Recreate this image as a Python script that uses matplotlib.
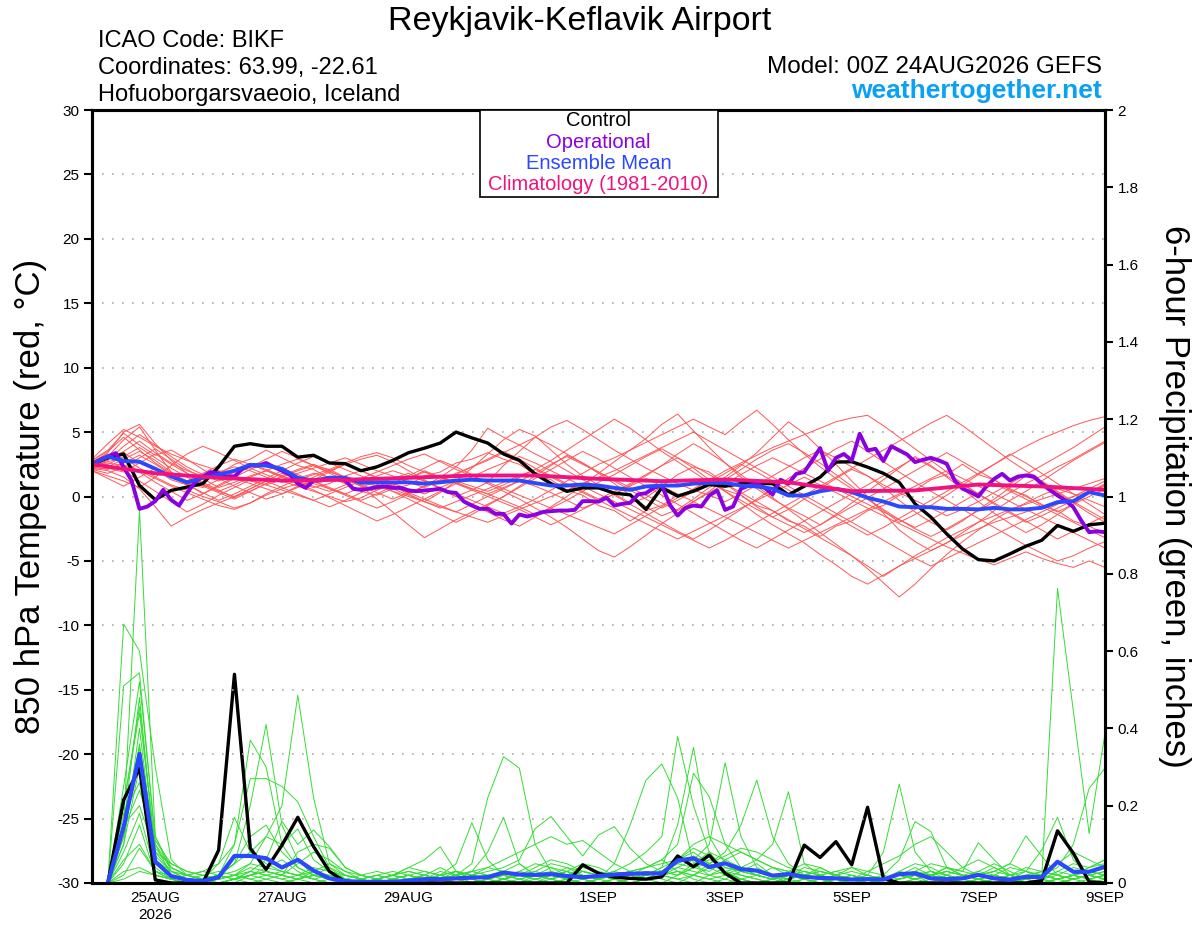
import numpy as np
import matplotlib
matplotlib.use("Agg")
import matplotlib.pyplot as plt
from matplotlib.patches import Rectangle

plt.rcParams['font.family'] = ['Liberation Sans', 'DejaVu Sans']

# ---------------- data ----------------
# 6-hourly temperature (deg C) from 00Z 24AUG, 65 steps
control_temp = [2.5, 3.0, 3.3, 0.85, -0.25, 0.47, 0.73, 1.0, 2.3, 3.9, 4.1, 3.9, 3.9,
                3.05, 3.2, 2.6, 2.55, 2.0, 2.3, 2.8, 3.4, 3.75, 4.15, 5.0, 4.55, 4.15,
                3.3, 2.8, 1.75, 1.0, 0.4, 0.67, 0.67, 0.26, 0.13, -1.0, 0.67, 0.03, 0.41,
                0.93, 0.8, 1.0, 1.0, 1.0, 0.13, 0.8, 1.5, 2.67, 2.7, 2.28, 1.8, 1.1,
                -0.57, -1.6, -2.9, -4.07, -4.9, -5.0, -4.45, -3.86, -3.4, -2.25, -2.7, -2.2, -2.07]

mean_temp = [2.5, 3.1, 2.75, 2.7, 2.15, 1.55, 1.1, 1.45, 1.7, 2.0, 2.46, 2.4, 2.15,
             1.45, 1.24, 1.45, 1.45, 1.06, 1.1, 1.1, 1.1, 1.0, 1.1, 1.24, 1.3, 1.24,
             1.24, 1.24, 1.04, 0.85, 0.85, 0.93, 0.85, 0.67, 0.52, 0.78, 0.85, 0.85, 1.0,
             1.06, 1.06, 0.85, 0.78, 0.6, 0.08, 0.08, 0.41, 0.6, 0.34, -0.1, -0.39, -0.78,
             -0.83, -0.83, -0.96, -0.96, -1.0, -0.88, -1.0, -1.0, -0.88, -0.44, -0.36, 0.34, 0.08]

# operational run is 3-hourly, 129 steps
oper_temp = [2.5, 2.85, 3.1, 3.37, 2.28, 1.24, -0.96, -0.78, -0.36, 0.52, -0.26, -0.7, 0.26,
             1.1, 1.55, 1.9, 1.8, 1.55, 1.55, 2.15, 2.4, 2.4, 2.6, 2.28, 2.0, 1.7,
             1.0, 0.67, 1.24, 1.24, 1.45, 1.45, 1.24, 0.6, 0.52, 0.6, 0.73, 0.78, 0.67,
             0.67, 0.47, 0.41, 0.47, 0.52, 0.6, 0.34, 0.28, -0.39, -0.7, -0.96, -0.96, -1.35,
             -1.35, -2.1, -1.4, -1.55, -1.4, -1.2, -1.14, -1.09, -1.09, -1.04, -0.36, -0.36, -0.4,
             -0.1, -0.7, -0.57, -0.49, 0.16, 0.26, 0.67, 0.85, -0.62, -1.48, -0.88, -0.7, -0.78,
             0.08, 0.47, -1.04, -0.78, 0.6, 0.85, 1.0, 0.67, 0.16, 1.3, 1.0, 1.76, 1.9,
             2.8, 3.76, 2.0, 3.0, 3.3, 2.8, 4.87, 3.58, 3.7, 2.75, 3.9, 3.58, 3.26,
             2.67, 2.85, 3.0, 2.8, 2.54, 1.24, 0.6, 0.34, 0.0, 0.78, 1.37, 1.76, 1.24,
             1.55, 1.63, 1.55, 1.0, 0.52, 0.08, -0.31, -0.83, -1.87, -2.77, -2.7, -2.77]

# climatology, daily at 00Z
clim_temp = [2.5, 1.8, 1.45, 1.24, 1.3, 1.45, 1.63, 1.63, 1.37, 1.19, 1.32, 1.1,
             0.41, 0.47, 0.93, 0.78, 0.52]

temp_members = [
    [2.6, 3.1, 4.4, 5.4, 3.6, 1.9, 1.0, 0.7, 1.3, 1.9, 2.5, 2.1, 1.6,
     1.1, 0.7, 1.0, 1.6, 2.0, 1.4, 0.8, 0.2, -0.4, 0.3, 1.2, 2.2, 3.3,
     4.4, 5.2, 4.7, 3.6, 2.5, 1.6, 0.9, 0.2, -0.5, -0.1, 0.8, 1.7, 2.3,
     1.9, 1.0, 0.1, -0.8, -1.6, -1.0, -0.2, 0.6, 1.4, 2.1, 1.6, 0.7, -0.3,
     -1.2, -2.0, -2.6, -1.9, -1.0, -0.2, 0.7, 1.6, 1.1, 0.3, -0.5, -1.3, -2.0],
    [2.2, 2.0, 1.5, 0.6, -0.8, -2.3, -1.6, -1.0, -0.5, 0.0, 0.4, 1.0, 1.5,
     2.0, 2.4, 2.1, 1.5, 0.8, -0.2, -1.2, -2.2, -3.2, -2.5, -1.8, -1.2, -0.6,
     0.0, 0.8, 1.6, 2.4, 3.2, 2.6, 1.8, 1.0, 0.1, -0.8, -1.5, -1.0, -0.2,
     0.7, 1.5, 2.4, 3.4, 4.6, 5.8, 4.9, 3.7, 2.5, 1.2, 0.0, -1.3, -2.6,
     -3.5, -4.2, -3.6, -2.8, -2.0, -1.1, -0.3, 0.4, 1.2, 2.0, 2.8, 3.5, 4.2],
    [2.8, 3.6, 4.9, 4.0, 3.2, 3.6, 2.9, 2.1, 1.4, 0.8, 0.3, -0.2, 0.2,
     0.8, 1.3, 1.9, 2.5, 2.9, 3.2, 2.7, 2.0, 1.3, 0.6, 0.0, -0.6, -1.2,
     -1.8, -2.3, -1.6, -0.8, 0.0, 0.9, 1.8, 2.7, 3.6, 4.5, 5.6, 6.4, 5.1,
     3.8, 2.6, 1.5, 0.6, -0.2, -0.9, -1.5, -2.2, -1.4, -0.5, 0.4, 1.3, 2.2,
     3.1, 2.4, 1.5, 0.6, -0.4, -1.3, -2.1, -2.8, -2.2, -1.4, -0.6, 0.3, 1.0],
    [2.4, 2.7, 3.0, 2.2, 1.5, 0.9, 0.5, 0.0, -0.4, -0.9, -0.5, 0.2, 0.8,
     1.3, 1.7, 2.1, 2.6, 3.1, 3.4, 3.0, 2.4, 1.9, 1.5, 1.1, 0.6, 0.2,
     -0.3, -0.8, -1.4, -0.9, -0.3, 0.4, 1.1, 1.7, 2.4, 3.1, 3.7, 3.0, 2.2,
     1.3, 0.4, -0.5, -1.4, -2.2, -2.9, -3.6, -4.5, -5.3, -6.2, -6.8, -6.1, -5.4,
     -4.8, -4.2, -3.6, -3.0, -2.5, -2.0, -1.6, -1.2, -0.8, -0.4, 0.0, 0.4, 0.8],
    [2.0, 1.6, 1.2, 0.7, 1.5, 2.4, 3.3, 3.9, 3.4, 2.8, 2.2, 1.7, 1.2,
     0.8, 0.4, 0.0, -0.4, -0.1, 0.5, 1.0, 1.6, 2.2, 2.8, 2.3, 1.7, 1.0,
     0.4, -0.2, -0.9, -1.6, -2.4, -3.3, -4.2, -4.7, -3.9, -3.0, -2.1, -1.3, -0.4,
     0.4, 1.3, 2.1, 2.9, 3.6, 4.1, 3.4, 2.6, 1.7, 0.8, -0.2, -1.1, -2.0,
     -1.4, -0.7, 0.1, 0.9, 1.7, 2.5, 3.3, 2.6, 1.8, 1.0, 0.2, -0.6, -1.4],
    [2.5, 2.9, 3.5, 4.3, 3.4, 2.6, 2.0, 1.6, 1.9, 2.3, 2.0, 1.5, 1.1,
     1.4, 1.8, 1.5, 1.0, 0.5, 0.9, 1.4, 1.8, 1.2, 0.6, 0.0, 0.5, 1.1,
     2.4, 3.5, 4.6, 5.4, 5.9, 5.2, 4.4, 3.6, 2.9, 2.2, 1.6, 1.0, 0.5,
     0.1, -0.4, 0.2, 0.9, 1.6, 2.3, 3.0, 3.6, 3.0, 2.3, 1.6, 0.9, 0.3,
     -0.3, -0.9, -1.5, -1.0, -0.4, 0.3, 1.0, 1.7, 2.4, 3.1, 3.8, 4.6, 5.4],
    [2.3, 2.1, 2.6, 3.2, 2.5, 1.7, 1.2, 0.8, 0.3, -0.2, 0.4, 1.0, 1.6,
     2.1, 2.5, 2.0, 1.4, 0.9, 0.5, 0.9, 1.4, 1.9, 1.5, 1.0, 0.6, 0.2,
     0.7, 1.2, 0.8, 0.3, -0.3, -0.9, -0.4, 0.2, 0.9, 1.6, 2.4, 3.3, 4.1,
     3.4, 2.6, 1.7, 0.8, -0.1, -1.0, -1.9, -2.8, -3.7, -4.6, -5.6, -6.7, -7.8,
     -6.8, -5.6, -4.5, -3.5, -2.6, -1.8, -1.1, -0.5, 0.1, 0.6, 0.2, -0.3, -0.8],
    [2.7, 3.3, 2.8, 1.9, 1.1, 0.4, -0.3, 0.2, 0.9, 1.5, 2.1, 2.6, 2.2,
     1.7, 1.2, 0.6, 0.1, -0.4, -0.9, -0.4, 0.2, 0.8, 1.5, 2.3, 3.6, 5.3,
     4.6, 4.0, 3.3, 2.7, 2.0, 1.3, 0.7, 0.1, -0.6, -1.3, -2.0, -2.7, -3.3,
     -2.6, -1.8, -1.0, -0.2, 0.6, 1.4, 2.2, 2.9, 3.7, 4.3, 3.5, 2.7, 1.9,
     1.1, 0.4, -0.3, -1.0, -1.7, -2.4, -3.1, -3.8, -4.4, -5.0, -4.6, -4.0, -3.5],
    [2.1, 1.8, 2.3, 3.0, 3.7, 2.9, 2.1, 1.4, 0.7, 1.1, 1.6, 2.0, 2.5,
     2.9, 2.4, 1.9, 1.5, 1.1, 1.6, 2.0, 1.6, 1.2, 0.7, 0.2, -0.3, -0.8,
     -1.3, -0.8, -0.2, 0.5, 1.2, 1.8, 2.5, 3.0, 3.6, 4.2, 4.8, 5.4, 6.0,
     5.4, 4.8, 5.8, 6.7, 5.6, 4.4, 3.3, 2.3, 1.4, 0.6, -0.2, -1.0, -1.8,
     -2.5, -3.1, -2.5, -1.8, -1.1, -0.4, 0.3, 1.0, 1.6, 2.3, 2.9, 3.6, 4.3],
    [2.5, 2.6, 2.4, 2.0, 1.4, 0.8, 0.3, -0.2, -0.7, -1.0, -0.5, 0.1, 0.6,
     1.0, 0.5, -0.1, -0.7, -1.3, -1.9, -1.4, -0.8, -0.2, 0.4, 1.0, 1.5, 2.1,
     2.6, 3.1, 2.6, 2.0, 1.4, 0.8, 0.2, -0.4, -1.0, -1.6, -2.2, -2.8, -3.4,
     -4.0, -3.4, -2.7, -2.0, -1.3, -0.6, 0.1, 0.8, 1.5, 2.2, 2.9, 3.6, 4.3,
     5.0, 5.7, 6.3, 5.5, 4.6, 3.7, 2.8, 2.0, 1.2, 0.4, -0.4, -1.1, -1.8],
    [2.9, 4.1, 5.2, 4.6, 3.9, 3.3, 2.8, 2.4, 2.0, 1.6, 1.2, 0.9, 1.3,
     1.8, 2.2, 2.6, 3.0, 2.5, 2.0, 1.6, 1.1, 0.7, 1.2, 1.7, 2.3, 2.9,
     3.5, 2.9, 2.2, 1.6, 1.0, 0.4, -0.2, 0.4, 1.0, 1.7, 2.4, 3.0, 2.4,
     1.7, 1.0, 0.3, -0.4, -1.1, -1.8, -2.5, -3.2, -3.9, -4.6, -5.4, -6.2, -5.4,
     -4.6, -3.9, -3.2, -2.6, -2.0, -1.5, -1.0, -0.6, -0.2, 0.2, 0.6, 1.0, 1.4],
    [2.3, 2.5, 3.1, 3.8, 3.0, 2.2, 1.5, 0.9, 0.4, 0.0, 0.6, 1.2, 1.8,
     1.4, 1.0, 0.6, 0.2, 0.7, 1.2, 0.8, 0.3, -0.2, -0.7, -1.2, -0.6, 0.0,
     0.6, 1.2, 1.8, 2.5, 3.1, 2.5, 1.9, 1.3, 0.7, 0.1, -0.5, -1.1, -0.4,
     0.3, 1.0, 1.7, 2.4, 3.0, 2.4, 1.8, 1.2, 0.6, 0.0, -0.6, -1.2, -1.8,
     -2.4, -1.8, -1.1, -0.4, 0.3, 1.0, 0.4, -0.2, -0.8, -1.4, -2.0, -2.6, -3.2],
    [2.6, 3.4, 5.0, 5.6, 4.1, 2.8, 1.8, 1.0, 0.4, 0.9, 1.5, 2.0, 1.6,
     1.2, 0.8, 0.4, 0.9, 1.4, 1.9, 2.4, 2.9, 3.3, 2.7, 2.1, 1.6, 1.1,
     0.6, 0.1, -0.4, -0.9, -1.4, -1.9, -2.4, -2.9, -2.2, -1.5, -0.8, -0.1, 0.6,
     1.3, 2.0, 2.6, 3.2, 3.8, 4.3, 4.8, 5.3, 5.8, 6.1, 6.3, 5.5, 4.6,
     3.7, 2.8, 1.9, 1.0, 0.2, -0.6, -1.3, -2.0, -1.5, -0.9, -0.3, 0.3, 0.9],
    [2.0, 1.4, 0.8, 1.5, 2.2, 1.6, 0.9, 0.3, -0.3, 0.2, 0.8, 1.4, 2.0,
     2.6, 3.1, 2.6, 2.1, 1.6, 1.1, 0.6, 0.1, -0.4, -0.9, -0.4, 0.1, 0.6,
     1.1, 1.6, 2.1, 1.5, 0.9, 0.3, -0.3, -0.9, -1.5, -2.1, -2.7, -3.3, -2.7,
     -2.1, -1.5, -0.9, -0.3, 0.3, 0.9, 1.5, 0.9, 0.3, -0.3, -0.9, -1.5, -2.1,
     -2.7, -3.3, -3.9, -4.4, -4.9, -5.3, -4.8, -4.3, -4.8, -5.2, -5.5, -5.0, -5.5],
    [2.4, 2.8, 3.9, 4.8, 4.0, 3.1, 2.3, 1.7, 1.2, 1.7, 2.3, 2.9, 3.5,
     3.0, 2.4, 1.8, 1.3, 0.8, 0.3, -0.2, 0.3, 0.8, 1.3, 1.8, 2.3, 2.8,
     3.4, 4.0, 4.6, 4.0, 3.3, 2.6, 1.9, 1.2, 0.5, -0.2, -0.9, -0.3, 0.4,
     1.1, 1.8, 2.5, 1.9, 1.2, 0.5, -0.2, -0.9, -1.6, -2.3, -3.0, -2.4, -1.7,
     -1.0, -0.3, 0.4, 1.1, 1.8, 2.5, 3.2, 3.9, 4.5, 5.0, 5.5, 5.9, 6.2],
    [2.2, 2.4, 2.0, 1.2, 0.4, -0.4, -1.2, -0.6, 0.1, 0.7, 1.3, 0.9, 0.5,
     0.1, -0.3, 0.2, 0.7, 1.2, 0.8, 0.4, 0.0, -0.4, -0.8, -1.2, -1.6, -2.0,
     -1.5, -1.0, -0.5, 0.0, 0.5, 1.0, 1.5, 2.0, 2.6, 3.2, 3.8, 4.4, 5.0,
     4.3, 3.6, 2.9, 2.2, 1.5, 0.8, 0.1, -0.6, -1.3, -2.0, -2.7, -3.4, -4.1,
     -4.8, -5.4, -4.8, -4.2, -3.6, -3.0, -2.4, -1.8, -1.2, -0.6, 0.0, 0.6, 1.2],
    [2.7, 3.0, 3.4, 2.6, 2.1, 1.3, 0.9, 1.4, 1.7, 2.5, 2.9, 3.6, 3.0,
     2.4, 2.1, 1.4, 1.1, 0.4, 0.1, 0.6, 0.9, 1.6, 1.9, 2.6, 2.9, 3.4,
     2.9, 2.5, 1.7, 1.3, 0.5, 0.1, -0.7, -1.1, -1.9, -1.1, -0.7, 0.1, 0.5,
     1.3, 0.5, 0.1, -0.7, -1.1, -1.9, -2.3, -3.1, -2.3, -1.9, -1.1, -0.7, 0.1,
     0.5, 1.3, 1.7, 2.5, 1.7, 1.3, 0.5, 0.1, -0.7, -1.1, -1.9, -2.3, -2.9],
    [2.1, 2.2, 1.9, 2.6, 3.3, 2.5, 1.8, 1.1, 0.5, -0.1, 0.6, 1.2, 0.7,
     0.2, -0.3, -0.8, -0.3, 0.3, 0.9, 0.4, -0.2, -0.8, -1.4, -2.0, -1.4, -0.7,
     0.0, 0.7, 1.4, 2.1, 2.8, 3.5, 2.9, 2.2, 1.5, 0.8, 0.1, -0.6, -1.3,
     -2.0, -2.7, -3.4, -4.0, -3.3, -2.6, -1.9, -1.2, -0.5, 0.2, 0.9, 1.6, 2.3,
     3.0, 2.3, 1.6, 0.9, 0.2, -0.5, -1.2, -1.9, -2.6, -3.3, -2.7, -2.1, -1.5],
    [2.8, 3.5, 4.6, 3.6, 2.6, 1.8, 1.2, 1.8, 2.4, 2.9, 2.5, 2.0, 1.5,
     1.0, 1.5, 2.0, 2.5, 2.0, 1.5, 1.0, 0.6, 0.2, 0.7, 1.2, 0.8, 0.4,
     0.9, 1.5, 2.1, 2.8, 3.6, 4.4, 5.2, 6.0, 5.3, 4.4, 3.5, 2.7, 1.9,
     1.1, 0.4, -0.3, -1.0, -1.6, -2.2, -2.8, -2.2, -1.5, -0.8, -0.1, 0.6, 1.3,
     2.0, 2.7, 3.4, 2.7, 2.0, 1.3, 0.6, 0.0, -0.6, -1.2, -0.6, 0.0, 0.6],
    [2.4, 2.3, 2.9, 3.5, 2.8, 1.9, 1.0, 0.2, 0.8, 1.4, 1.0, 0.6, 0.2,
     0.7, 1.2, 0.7, 0.2, -0.3, 0.2, 0.8, 1.4, 2.0, 1.5, 1.0, 0.5, 0.0,
     -0.5, -1.0, -1.6, -2.2, -1.6, -1.0, -0.4, 0.2, 0.8, 1.4, 0.8, 0.2, -0.4,
     -1.0, -1.6, -2.2, -2.8, -3.4, -4.0, -3.4, -2.8, -2.2, -1.6, -1.0, -0.4, 0.2,
     0.8, 1.4, 2.0, 1.4, 0.8, 0.2, -0.4, -1.0, -1.6, -2.2, -2.8, -3.4, -4.0],
]

# 6-hour precipitation (inches), valid 06Z 24AUG .. 00Z 9SEP, 64 steps
control_prcp = [0, 0.215, 0.297, 0.008, 0, 0, 0, 0.085, 0.54, 0.09, 0.035, 0.098, 0.17, 0.094, 0.03, 0.003,
                0, 0, 0, 0, 0, 0, 0, 0, 0, 0, 0, 0, 0, 0, 0.047, 0.025,
                0.015, 0.012, 0.01, 0.016, 0.07, 0.042, 0.072, 0.025, 0, 0, 0, 0, 0.098, 0.066, 0.107, 0.047,
                0.196, 0.012, 0, 0, 0, 0, 0, 0, 0, 0, 0, 0.006, 0.135, 0.077, 0.003, 0]

mean_prcp = [0, 0.146, 0.334, 0.055, 0.018, 0.008, 0.005, 0.015, 0.07, 0.07, 0.064, 0.04, 0.06, 0.032, 0.012, 0.005,
             0.003, 0.003, 0.003, 0.006, 0.01, 0.01, 0.012, 0.014, 0.015, 0.027, 0.022, 0.021, 0.023, 0.018, 0.015, 0.018,
             0.022, 0.024, 0.025, 0.025, 0.058, 0.064, 0.041, 0.051, 0.036, 0.032, 0.019, 0.023, 0.016, 0.013, 0.012, 0.009,
             0.01, 0.009, 0.023, 0.025, 0.012, 0.01, 0.012, 0.021, 0.012, 0.009, 0.016, 0.015, 0.055, 0.029, 0.029, 0.042]

prcp_members = [
    [0, 0.15, 0.965, 0.12, 0.03, 0.01, 0, 0, 0.01, 0.03, 0.02, 0.01, 0, 0, 0, 0,
     0, 0, 0.01, 0.02, 0.01, 0, 0, 0, 0.01, 0.03, 0.05, 0.02, 0.01, 0, 0, 0.01,
     0.05, 0.15, 0.266, 0.308, 0.22, 0.05, 0.02, 0.01, 0, 0, 0.01, 0.02, 0.01, 0, 0, 0,
     0, 0.01, 0.03, 0.02, 0, 0, 0.01, 0.02, 0.04, 0.02, 0, 0, 0.01, 0.02, 0.01, 0],
    [0, 0.67, 0.60, 0.30, 0.06, 0.02, 0.01, 0.02, 0.05, 0.20, 0.41, 0.15, 0.06, 0.02, 0.01, 0,
     0, 0.01, 0, 0, 0.02, 0.04, 0.02, 0, 0, 0.01, 0, 0, 0.02, 0.03, 0.01, 0,
     0, 0.01, 0.02, 0.01, 0, 0.02, 0.05, 0.03, 0.01, 0, 0, 0.01, 0.02, 0.01, 0, 0.01,
     0.02, 0.01, 0, 0, 0.01, 0.02, 0.01, 0, 0.01, 0.02, 0.03, 0.012, 0.762, 0.445, 0.128, 0.387],
    [0, 0.51, 0.544, 0.10, 0.02, 0.01, 0, 0.01, 0.02, 0.01, 0, 0, 0.01, 0.02, 0.01, 0,
     0, 0, 0, 0.01, 0.02, 0.01, 0.02, 0.05, 0.22, 0.327, 0.297, 0.10, 0.03, 0.01, 0, 0,
     0.01, 0.02, 0.04, 0.06, 0.03, 0.01, 0, 0.01, 0.03, 0.05, 0.02, 0, 0.01, 0.02, 0.01, 0,
     0, 0.01, 0.02, 0.04, 0.02, 0.01, 0, 0.01, 0.02, 0.01, 0, 0.01, 0.03, 0.02, 0.01, 0.02],
    [0, 0.20, 0.456, 0.08, 0.03, 0.02, 0.01, 0, 0, 0.02, 0.04, 0.06, 0.03, 0.01, 0, 0,
     0.01, 0.02, 0.01, 0, 0, 0.01, 0.03, 0.02, 0.01, 0, 0, 0.02, 0.04, 0.03, 0.01, 0.02,
     0.03, 0.05, 0.08, 0.12, 0.379, 0.20, 0.08, 0.03, 0.01, 0, 0, 0.01, 0.02, 0.04, 0.02, 0.01,
     0, 0, 0.01, 0.02, 0.01, 0, 0.01, 0.03, 0.05, 0.03, 0.01, 0, 0, 0.01, 0.02, 0.01],
    [0, 0.20, 0.44, 0.09, 0.04, 0.02, 0.01, 0.02, 0.10, 0.37, 0.30, 0.10, 0.04, 0.02, 0.01, 0,
     0, 0.01, 0.02, 0.03, 0.02, 0.01, 0, 0, 0.01, 0.02, 0.03, 0.02, 0.01, 0.02, 0.04, 0.03,
     0.02, 0.01, 0.02, 0.04, 0.06, 0.10, 0.12, 0.10, 0.08, 0.06, 0.04, 0.02, 0.01, 0, 0.01, 0.02,
     0.01, 0, 0, 0.01, 0.02, 0.03, 0.02, 0.01, 0, 0, 0.01, 0.02, 0.01, 0, 0.01, 0.02],
    [0, 0.12, 0.36, 0.06, 0.02, 0.01, 0, 0, 0.01, 0.02, 0.03, 0.02, 0.01, 0.03, 0.02, 0.01,
     0, 0, 0.01, 0.02, 0.03, 0.02, 0.05, 0.156, 0.06, 0.02, 0.01, 0, 0, 0.01, 0.02, 0.01,
     0, 0.01, 0.03, 0.02, 0.01, 0, 0.02, 0.04, 0.03, 0.02, 0.01, 0.03, 0.05, 0.04, 0.02, 0.01,
     0, 0.01, 0.02, 0.01, 0, 0.02, 0.04, 0.06, 0.04, 0.02, 0.01, 0, 0.01, 0.02, 0.04, 0.06],
    [0, 0.10, 0.30, 0.05, 0.02, 0.01, 0, 0.01, 0.02, 0.05, 0.12, 0.20, 0.486, 0.22, 0.05, 0.02,
     0.01, 0, 0, 0.01, 0.02, 0.01, 0, 0, 0.01, 0.02, 0.01, 0, 0.01, 0.02, 0.03, 0.02,
     0.01, 0, 0.01, 0.02, 0.03, 0.02, 0.01, 0, 0.01, 0.02, 0.04, 0.03, 0.02, 0.01, 0.02, 0.04,
     0.02, 0.08, 0.256, 0.08, 0.03, 0.01, 0, 0.01, 0.02, 0.01, 0, 0.01, 0.02, 0.01, 0, 0.01],
    [0, 0.18, 0.26, 0.04, 0.01, 0.02, 0.03, 0.05, 0.10, 0.27, 0.27, 0.25, 0.21, 0.12, 0.04, 0.01,
     0, 0, 0.01, 0.02, 0.01, 0.02, 0.03, 0.01, 0, 0.01, 0.02, 0.03, 0.02, 0.01, 0, 0.01,
     0.02, 0.03, 0.01, 0, 0.02, 0.05, 0.08, 0.06, 0.04, 0.02, 0.01, 0, 0.01, 0.02, 0.01, 0,
     0.01, 0.02, 0.06, 0.159, 0.133, 0.04, 0.02, 0.01, 0, 0.01, 0.02, 0.01, 0, 0.01, 0.02, 0.01],
    [0, 0.15, 0.20, 0.08, 0.05, 0.03, 0.02, 0.01, 0.02, 0.03, 0.02, 0.01, 0.02, 0.04, 0.03, 0.01,
     0, 0.01, 0.02, 0.04, 0.03, 0.02, 0.01, 0.03, 0.08, 0.17, 0.05, 0.02, 0.01, 0, 0.01, 0.02,
     0.01, 0, 0.01, 0.03, 0.05, 0.07, 0.05, 0.03, 0.02, 0.01, 0, 0.02, 0.03, 0.02, 0.01, 0,
     0, 0.01, 0.02, 0.01, 0.02, 0.04, 0.03, 0.104, 0.06, 0.02, 0.01, 0, 0.01, 0.02, 0.01, 0.02],
    [0, 0.08, 0.18, 0.03, 0.01, 0, 0, 0, 0.01, 0.02, 0.01, 0, 0.01, 0.02, 0.04, 0.02,
     0.01, 0, 0, 0, 0.01, 0.02, 0.03, 0.02, 0.01, 0, 0.01, 0.02, 0.01, 0.03, 0.05, 0.04,
     0.02, 0.01, 0.02, 0.04, 0.15, 0.351, 0.12, 0.05, 0.02, 0.01, 0, 0.01, 0.02, 0.03, 0.02, 0.01,
     0, 0, 0.01, 0.02, 0.01, 0, 0.01, 0.02, 0.03, 0.05, 0.03, 0.02, 0.01, 0.02, 0.03, 0.02],
    [0, 0.15, 0.48, 0.07, 0.03, 0.01, 0.02, 0.03, 0.02, 0.01, 0.02, 0.03, 0.02, 0.01, 0, 0.01,
     0.02, 0.03, 0.02, 0.04, 0.06, 0.094, 0.03, 0.01, 0, 0.01, 0.02, 0.01, 0, 0.01, 0.03, 0.02,
     0.01, 0.02, 0.03, 0.02, 0.01, 0.02, 0.04, 0.02, 0.01, 0, 0.01, 0.02, 0.01, 0.02, 0.03, 0.02,
     0.01, 0, 0.01, 0.02, 0.03, 0.02, 0.01, 0.02, 0.03, 0.05, 0.122, 0.07, 0.02, 0.01, 0.02, 0.01],
    [0, 0.12, 0.35, 0.10, 0.04, 0.02, 0.01, 0.05, 0.17, 0.08, 0.05, 0.03, 0.02, 0.01, 0.02, 0.01,
     0, 0.01, 0.02, 0.01, 0, 0, 0.01, 0.02, 0.04, 0.03, 0.02, 0.03, 0.05, 0.04, 0.02, 0.01,
     0.02, 0.03, 0.04, 0.06, 0.10, 0.284, 0.223, 0.10, 0.04, 0.02, 0.01, 0.02, 0.01, 0, 0.01, 0.02,
     0.01, 0, 0, 0.01, 0.02, 0.04, 0.02, 0.01, 0.02, 0.01, 0, 0.01, 0.03, 0.05, 0.04, 0.06],
    [0, 0.05, 0.15, 0.02, 0.01, 0, 0, 0, 0.01, 0.03, 0.06, 0.16, 0.10, 0.137, 0.094, 0.04,
     0.02, 0.01, 0, 0, 0.01, 0.02, 0.01, 0, 0, 0.01, 0.02, 0.01, 0.02, 0.04, 0.03, 0.02,
     0.01, 0.02, 0.01, 0.03, 0.06, 0.09, 0.07, 0.04, 0.03, 0.02, 0.01, 0.02, 0.04, 0.03, 0.02, 0.01,
     0.03, 0.05, 0.07, 0.10, 0.12, 0.08, 0.04, 0.02, 0.01, 0, 0.01, 0.02, 0.01, 0.02, 0.03, 0.02],
    [0, 0.03, 0.04, 0.02, 0.01, 0.02, 0.03, 0.02, 0.01, 0, 0.01, 0.02, 0.01, 0, 0.01, 0.02,
     0.01, 0.02, 0.03, 0.02, 0.01, 0.02, 0.03, 0.02, 0.03, 0.04, 0.06, 0.141, 0.172, 0.12, 0.07, 0.124,
     0.146, 0.09, 0.05, 0.03, 0.02, 0.04, 0.06, 0.05, 0.03, 0.02, 0.01, 0.02, 0.03, 0.02, 0.01, 0,
     0, 0.01, 0.02, 0.01, 0.02, 0.03, 0.02, 0.01, 0, 0.01, 0.02, 0.01, 0, 0.01, 0.02, 0.03],
    [0, 0.10, 0.40, 0.06, 0.03, 0.02, 0.01, 0.02, 0.03, 0.05, 0.04, 0.03, 0.02, 0.03, 0.05, 0.03,
     0.02, 0.01, 0.02, 0.03, 0.02, 0.01, 0.02, 0.03, 0.04, 0.06, 0.08, 0.10, 0.12, 0.10, 0.11, 0.08,
     0.05, 0.03, 0.02, 0.03, 0.05, 0.04, 0.03, 0.06, 0.08, 0.06, 0.04, 0.03, 0.02, 0.01, 0.02, 0.03,
     0.02, 0.01, 0.02, 0.03, 0.05, 0.04, 0.03, 0.02, 0.01, 0.02, 0.04, 0.03, 0.02, 0.01, 0.02, 0.01],
    [0, 0.01, 0.03, 0.02, 0.01, 0, 0.01, 0.02, 0.05, 0.12, 0.15, 0.08, 0.04, 0.02, 0.01, 0,
     0, 0.01, 0.02, 0.01, 0, 0.01, 0.02, 0.03, 0.02, 0.01, 0.03, 0.05, 0.04, 0.02, 0.01, 0.02,
     0.03, 0.02, 0.01, 0.02, 0.04, 0.06, 0.10, 0.311, 0.12, 0.04, 0.02, 0.01, 0, 0.01, 0.02, 0.01,
     0, 0.01, 0.02, 0.03, 0.02, 0.01, 0, 0.01, 0.02, 0.04, 0.03, 0.02, 0.01, 0.02, 0.04, 0.05],
    [0, 0.14, 0.24, 0.11, 0.05, 0.03, 0.02, 0.01, 0.02, 0.04, 0.03, 0.02, 0.05, 0.08, 0.06, 0.03,
     0.01, 0, 0.01, 0.02, 0.01, 0.02, 0.01, 0, 0.01, 0.02, 0.01, 0.02, 0.03, 0.02, 0.01, 0,
     0.01, 0.02, 0.01, 0.03, 0.02, 0.04, 0.05, 0.08, 0.15, 0.266, 0.12, 0.05, 0.02, 0.01, 0, 0.01,
     0.02, 0.01, 0.03, 0.05, 0.04, 0.02, 0.01, 0.02, 0.03, 0.02, 0.01, 0.03, 0.05, 0.08, 0.06, 0.04],
    [0, 0.06, 0.10, 0.03, 0.02, 0.01, 0, 0.02, 0.05, 0.08, 0.12, 0.10, 0.14, 0.06, 0.03, 0.02,
     0.01, 0.02, 0.01, 0, 0.01, 0.03, 0.02, 0.01, 0, 0.01, 0.02, 0.04, 0.06, 0.05, 0.03, 0.02,
     0.01, 0, 0.01, 0.02, 0.03, 0.02, 0.01, 0.02, 0.04, 0.03, 0.02, 0.01, 0.02, 0.03, 0.02, 0.01,
     0, 0.01, 0.02, 0.03, 0.02, 0.01, 0.02, 0.03, 0.02, 0.01, 0.03, 0.085, 0.17, 0.06, 0.02, 0.03],
    [0, 0.25, 0.52, 0.12, 0.04, 0.02, 0.01, 0, 0.01, 0.02, 0.03, 0.02, 0.01, 0.02, 0.01, 0,
     0, 0.01, 0, 0.01, 0.02, 0.01, 0.02, 0.03, 0.02, 0.01, 0, 0.01, 0.02, 0.03, 0.02, 0.01,
     0.02, 0.01, 0.02, 0.03, 0.04, 0.03, 0.02, 0.03, 0.04, 0.06, 0.10, 0.236, 0.05, 0.02, 0.01, 0.02,
     0, 0.01, 0.02, 0.01, 0.02, 0.03, 0.02, 0.01, 0, 0.01, 0.02, 0.03, 0.02, 0.04, 0.03, 0.02],
    [0, 0.02, 0.09, 0.03, 0.01, 0, 0.01, 0.02, 0.01, 0.02, 0.03, 0.02, 0.08, 0.10, 0.09, 0.04,
     0.02, 0.01, 0.02, 0.01, 0, 0.01, 0.02, 0.01, 0.02, 0.03, 0.02, 0.01, 0.02, 0.01, 0, 0.01,
     0.02, 0.03, 0.04, 0.05, 0.06, 0.08, 0.05, 0.07, 0.09, 0.08, 0.06, 0.04, 0.03, 0.02, 0.03, 0.04,
     0.03, 0.02, 0.01, 0.02, 0.03, 0.02, 0.01, 0, 0.01, 0.02, 0.01, 0.02, 0.04, 0.10, 0.245, 0.297],
]

tick_hours = [24, 72, 120, 192, 240, 288, 336, 384]
tick_labels = ["25AUG\n2026", "27AUG", "29AUG", "1SEP", "3SEP", "5SEP", "7SEP", "9SEP"]

legend_items = [("Control", "black"),
                ("Operational", "#8a00e0"),
                ("Ensemble Mean", "#2a48ff"),
                ("Climatology (1981-2010)", "#f0127f")]

# time axes (hours after 00Z 24AUG)
h6 = np.arange(0, 385, 6)
h3 = np.arange(0, 385, 3)
h24 = np.arange(0, 385, 24)
hp = np.arange(6, 385, 6)

# ---------------- figure ----------------
fig = plt.figure(figsize=(12, 9.27), dpi=100)
ax = fig.add_axes([92 / 1200, 44 / 927, 1013 / 1200, 773 / 927])
ax2 = ax.twinx()
ax.set_zorder(ax2.get_zorder() + 1)
ax.patch.set_visible(False)

# precipitation (right axis)
for m in prcp_members:
    ax2.plot(hp[:len(m)], m, color="#33dd33", lw=0.7)
ax2.plot(hp, control_prcp, color="black", lw=2.4)
ax2.plot(hp, mean_prcp, color="#2a48ff", lw=3.0)

# temperature (left axis)
for m in temp_members:
    ax.plot(h6[:len(m)], m, color="#ff5555", lw=0.7)
ax.plot(h6, control_temp, color="black", lw=2.4)
ax.plot(h3, oper_temp, color="#8a00e0", lw=2.8)
ax.plot(h6, mean_temp, color="#2a48ff", lw=2.8)
ax.plot(h24, clim_temp, color="#f0127f", lw=2.8)

ax.set_xlim(0, 384)
ax.set_ylim(-30, 30)
ax2.set_ylim(0, 2)

ax.set_yticks(range(-30, 31, 5))
ax.set_yticklabels([str(v) for v in range(-30, 31, 5)])
ax.grid(axis="y", color="#aaaaaa", linestyle=(0, (1, 5)), lw=1.2)
ax.set_xticks(tick_hours)
ax.set_xticklabels(tick_labels)
ax.tick_params(axis="x", length=0, pad=6, labelsize=11)
ax.tick_params(axis="y", direction="out", length=6, width=1.5, labelsize=11, pad=3)

p_ticks = np.round(np.arange(0, 2.01, 0.2), 1)
ax2.set_yticks(p_ticks)
ax2.set_yticklabels(["0", "0.2", "0.4", "0.6", "0.8", "1", "1.2", "1.4", "1.6", "1.8", "2"])
ax2.tick_params(axis="y", direction="out", length=6, width=1.5, labelsize=11, pad=3)

for a in (ax, ax2):
    for s in a.spines.values():
        s.set_linewidth(2.2)

# legend box
ax.add_patch(Rectangle((0.383, 0.8875), 0.235, 0.1125, transform=ax.transAxes,
                       facecolor="white", edgecolor="black", lw=1.2, zorder=6))
for k, (txt, col) in enumerate(legend_items):
    ax.text(0.5, 0.9858 - k * 0.0275, txt, color=col, fontsize=14.5,
            ha="center", va="center", transform=ax.transAxes, zorder=7)

# header text
fig.text(580 / 1200, 1 - 30 / 927, "Reykjavik-Keflavik Airport", fontsize=24.5,
         ha="center", va="baseline")
fig.text(98 / 1200, 1 - 47 / 927, "ICAO Code: BIKF", fontsize=17, va="baseline")
fig.text(98 / 1200, 1 - 74 / 927, "Coordinates: 63.99, -22.61", fontsize=17, va="baseline")
fig.text(98 / 1200, 1 - 101 / 927, "Hofuoborgarsvaeoio, Iceland", fontsize=17, va="baseline")
fig.text(1102 / 1200, 1 - 73 / 927, "Model: 00Z 24AUG2026 GEFS", fontsize=17.5,
         ha="right", va="baseline")
fig.text(1102 / 1200, 1 - 98 / 927, "weathertogether.net", fontsize=19, fontweight="bold",
         color="#0aa0f5", ha="right", va="baseline")

fig.text(31 / 1200, 1 - 496 / 927, "850 hPa Temperature (red, °C)", fontsize=25,
         rotation=90, ha="center", va="center")
fig.text(1175 / 1200, 1 - 496 / 927, "6-hour Precipitation (green, inches)", fontsize=25,
         rotation=270, ha="center", va="center")

fig.savefig("out.png", dpi=100)
